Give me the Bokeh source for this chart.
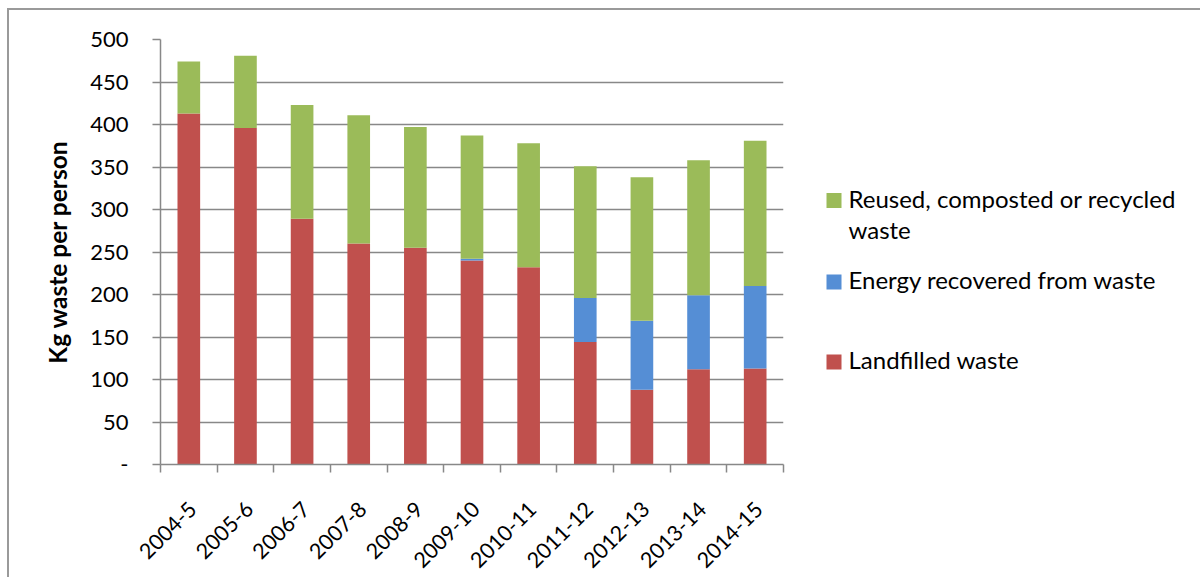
import math

from bokeh.core.properties import value
from bokeh.embed import file_html
from bokeh.layouts import row
from bokeh.models import ColumnDataSource, FixedTicker, Range1d
from bokeh.plotting import figure
from bokeh.resources import INLINE

# Waste per person by financial year (kg)
years = ["2004-5", "2005-6", "2006-7", "2007-8", "2008-9", "2009-10",
         "2010-11", "2011-12", "2012-13", "2013-14", "2014-15"]
landfilled = [413, 396, 289, 260, 255, 240, 232, 144, 88, 112, 113]
energy = [0, 0, 0, 0, 0, 2, 0, 52, 81, 87, 97]
recycled = [61, 85, 134, 151, 142, 145, 146, 155, 169, 159, 171]

series_names = ["Landfilled waste", "Energy recovered from waste",
                "Reused, composted or recycled\nwaste"]

y_ticks = [0, 50, 100, 150, 200, 250, 300, 350, 400, 450, 500]
y_tick_labels = ["-", "50", "100", "150", "200", "250", "300", "350",
                 "400", "450", "500"]

FONT = "Lato"
Y_TICK_SIZE = "22px"
X_TICK_SIZE = "21.5px"
LEGEND_SIZE = "24px"
GRID = "#888888"
RED = "#C0504D"
BLUE = "#558ED5"
GREEN = "#9BBB59"
COLORS = [RED, BLUE, GREEN]

# page offset of the bordered chart area and plot-frame geometry
LEFT, TOP = 9, 10
AREA_W, AREA_H = 1200 - LEFT, 577 - TOP
BORDER_TOP, BORDER_BOTTOM = 29, 113
MAIN_W = 800 - LEFT

# ---- main bar chart -------------------------------------------------------
x = [i + 0.5 for i in range(len(years))]
source = ColumnDataSource(dict(x=x, landfilled=landfilled, energy=energy,
                               recycled=recycled))

p = figure(width=MAIN_W, height=AREA_H,
           x_range=Range1d(0, len(years)), y_range=Range1d(0, 500),
           output_backend="svg", toolbar_location=None,
           min_border_left=160 - LEFT, min_border_right=17,
           min_border_top=BORDER_TOP, min_border_bottom=BORDER_BOTTOM)

stack = p.vbar_stack(["landfilled", "energy", "recycled"], x="x", width=0.4,
                     fill_color=COLORS, line_color=None, source=source)

# x axis: rotated labels end at each bar, tick marks on category boundaries
label_shift = 0.07
label_pos = [xi + label_shift for xi in x]
p.xaxis.ticker = FixedTicker(ticks=label_pos,
                             minor_ticks=list(range(len(years) + 1)))
p.xaxis.major_label_overrides = dict(zip(label_pos, years))
p.xaxis.major_label_orientation = math.pi / 4
p.xaxis.major_label_text_font_size = X_TICK_SIZE
p.xaxis.major_tick_line_color = None
p.xaxis.major_tick_out = 8
p.xaxis.major_tick_in = 0
p.xaxis.minor_tick_line_color = GRID
p.xaxis.minor_tick_line_width = 1.5
p.xaxis.minor_tick_out = 8
p.xaxis.minor_tick_in = 0
p.xaxis.major_label_standoff = 33

# y axis
p.yaxis.ticker = FixedTicker(ticks=y_ticks, minor_ticks=[])
p.yaxis.major_label_overrides = dict(zip(y_ticks, y_tick_labels))
p.yaxis.major_label_text_font_size = Y_TICK_SIZE
p.yaxis.major_tick_line_color = GRID
p.yaxis.major_tick_line_width = 1.5
p.yaxis.major_tick_out = 8
p.yaxis.major_tick_in = 0
p.yaxis.major_label_standoff = 24
p.yaxis.axis_label = "Kg waste per person"
p.yaxis.axis_label_text_font = FONT
p.yaxis.axis_label_text_font_style = "bold"
p.yaxis.axis_label_text_font_size = "24.5px"
p.yaxis.axis_label_text_color = "black"
p.yaxis.axis_label_standoff = 15

for ax in (p.xaxis, p.yaxis):
    ax.axis_line_color = GRID
    ax.axis_line_width = 1.5
    ax.major_label_text_font = FONT
    ax.major_label_text_color = "black"

p.xgrid.visible = False
p.ygrid.grid_line_color = GRID
p.ygrid.grid_line_width = 1.5
p.outline_line_color = None

# ---- legend panel (its frame spans page y 39..464, y grows downwards) -----
frame_top = TOP + BORDER_TOP
frame_bottom = TOP + AREA_H - BORDER_BOTTOM
leg = figure(width=AREA_W - MAIN_W, height=AREA_H,
             x_range=Range1d(800, 1200),
             y_range=Range1d(frame_bottom, frame_top),
             output_backend="svg", toolbar_location=None,
             x_axis_location=None, y_axis_location=None,
             min_border_left=0, min_border_right=0,
             min_border_top=BORDER_TOP, min_border_bottom=BORDER_BOTTOM,
             outline_line_color=None)
leg.grid.visible = False

# legend order top to bottom, swatch centres and text line anchors
legend_order = [2, 1, 0]
swatch_y = [200, 281.5, 361.5]
line_anchor = [[198, 228.5], [279], [359]]

swatch = ColumnDataSource(dict(
    x=[833.5] * len(legend_order),
    y=swatch_y,
    color=[COLORS[i] for i in legend_order],
))
leg.scatter("x", "y", source=swatch, marker="square", size=15,
            fill_color="color", line_color=None)

text_x, text_y, text_s = [], [], []
for idx, ys in zip(legend_order, line_anchor):
    for line, yy in zip(series_names[idx].split("\n"), ys):
        text_x.append(848)
        text_y.append(yy)
        text_s.append(line)
leg.text(text_x, text_y, text=text_s, text_font=value(FONT),
         text_font_size=LEGEND_SIZE, text_color="black",
         text_baseline="alphabetic", text_align="left")

# the bordered chart area runs off the right and bottom window edges
layout = row(p, leg, width=AREA_W, height=AREA_H,
             margin=(TOP, 0, 0, LEFT),
             styles={"outline": "2px solid #9a9a9a", "overflow": "hidden"})

open("out.html", "w").write(file_html(layout, INLINE))
